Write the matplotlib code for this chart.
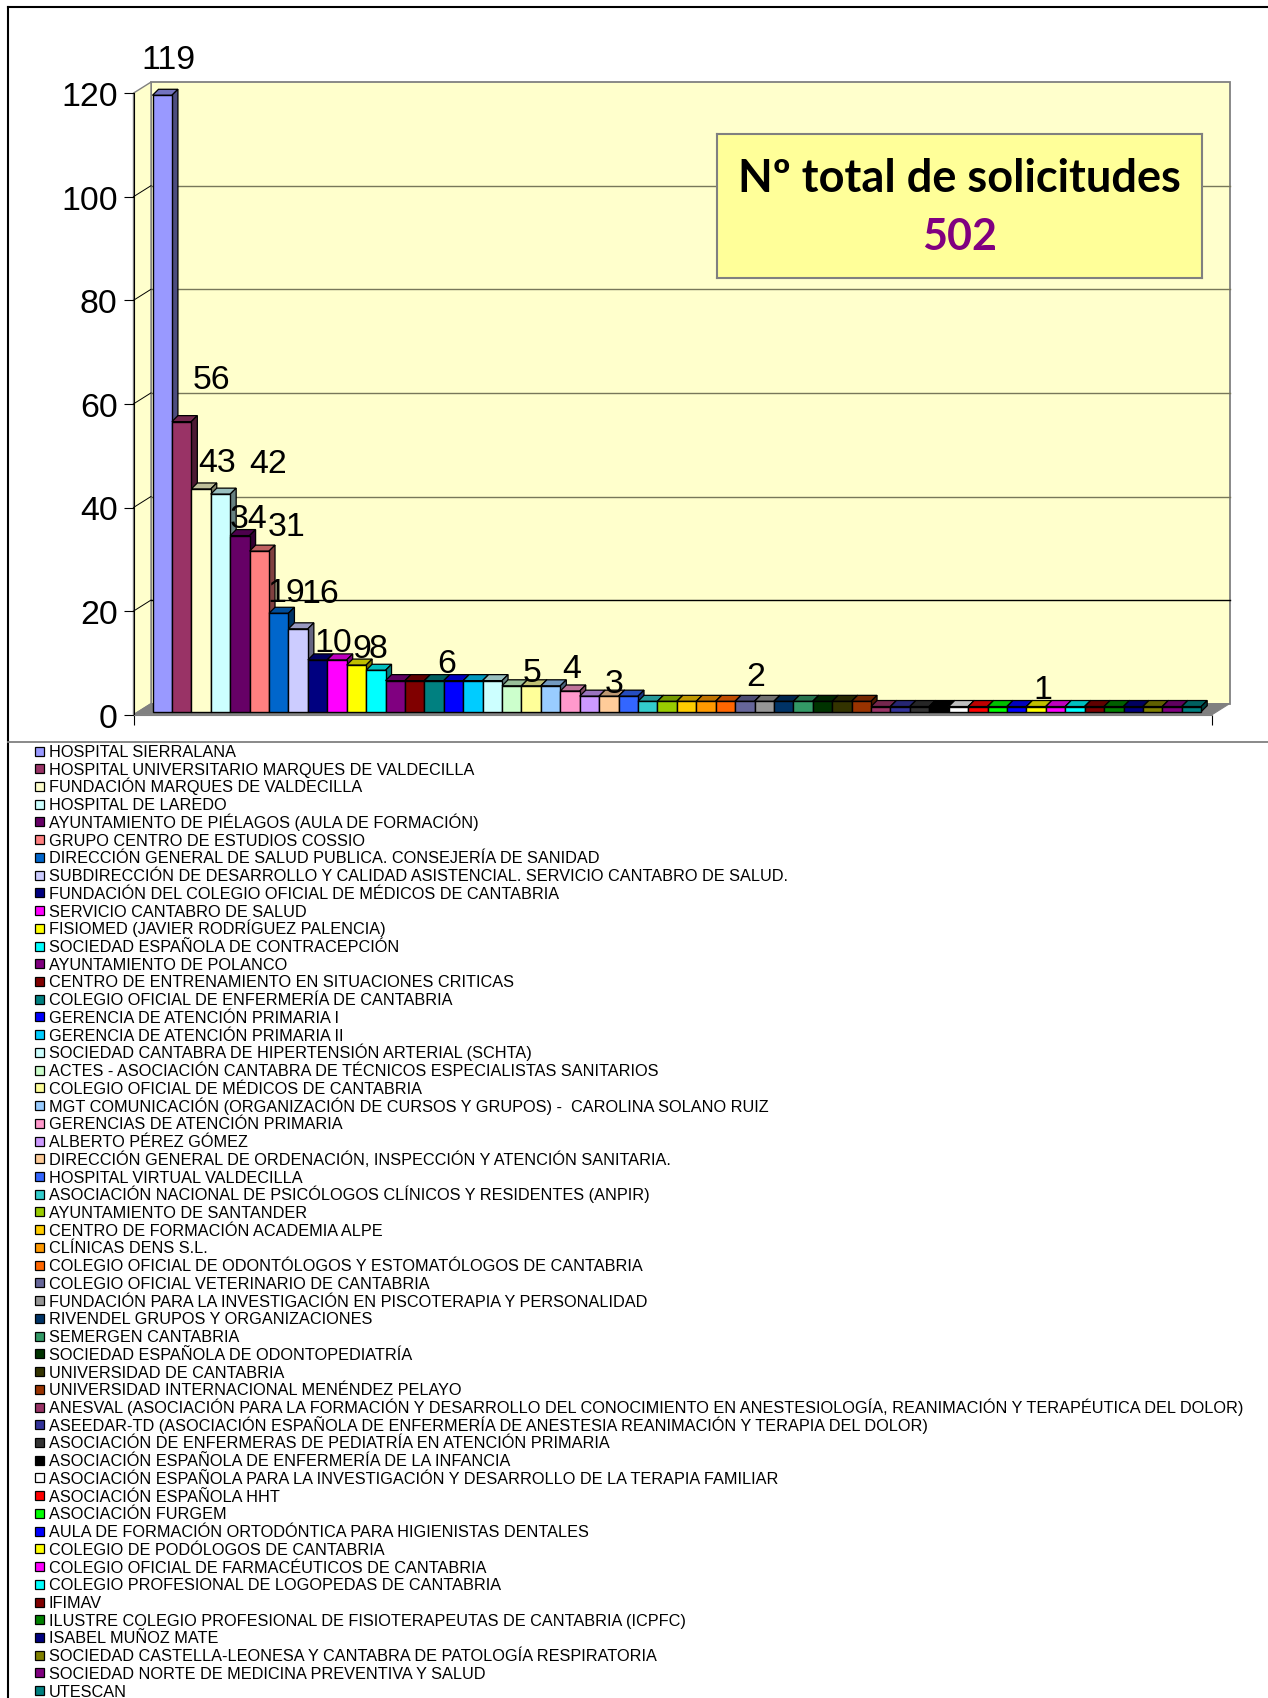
import matplotlib
matplotlib.use("Agg")
import matplotlib.pyplot as plt
from matplotlib.colors import to_rgb
from matplotlib.patches import Polygon, Rectangle
from matplotlib.transforms import Affine2D

W, H = 1268, 1699

entities = [
    "HOSPITAL SIERRALANA",
    "HOSPITAL UNIVERSITARIO MARQUES DE VALDECILLA",
    "FUNDACIÓN MARQUES DE VALDECILLA",
    "HOSPITAL DE LAREDO",
    "AYUNTAMIENTO DE PIÉLAGOS (AULA DE FORMACIÓN)",
    "GRUPO CENTRO DE ESTUDIOS COSSIO",
    "DIRECCIÓN GENERAL DE SALUD PUBLICA. CONSEJERÍA DE SANIDAD",
    "SUBDIRECCIÓN DE DESARROLLO Y CALIDAD ASISTENCIAL. SERVICIO CANTABRO DE SALUD.",
    "FUNDACIÓN DEL COLEGIO OFICIAL DE MÉDICOS DE CANTABRIA",
    "SERVICIO CANTABRO DE SALUD",
    "FISIOMED (JAVIER RODRÍGUEZ PALENCIA)",
    "SOCIEDAD ESPAÑOLA DE CONTRACEPCIÓN",
    "AYUNTAMIENTO DE POLANCO",
    "CENTRO DE ENTRENAMIENTO EN SITUACIONES CRITICAS",
    "COLEGIO OFICIAL DE ENFERMERÍA DE CANTABRIA",
    "GERENCIA DE ATENCIÓN PRIMARIA I",
    "GERENCIA DE ATENCIÓN PRIMARIA II",
    "SOCIEDAD CANTABRA DE HIPERTENSIÓN ARTERIAL (SCHTA)",
    "ACTES - ASOCIACIÓN CANTABRA DE TÉCNICOS ESPECIALISTAS SANITARIOS",
    "COLEGIO OFICIAL DE MÉDICOS DE CANTABRIA",
    "MGT COMUNICACIÓN (ORGANIZACIÓN DE CURSOS Y GRUPOS) -  CAROLINA SOLANO RUIZ",
    "GERENCIAS DE ATENCIÓN PRIMARIA",
    "ALBERTO PÉREZ GÓMEZ",
    "DIRECCIÓN GENERAL DE ORDENACIÓN, INSPECCIÓN Y ATENCIÓN SANITARIA.",
    "HOSPITAL VIRTUAL VALDECILLA",
    "ASOCIACIÓN NACIONAL DE PSICÓLOGOS CLÍNICOS Y RESIDENTES (ANPIR)",
    "AYUNTAMIENTO DE SANTANDER",
    "CENTRO DE FORMACIÓN ACADEMIA ALPE",
    "CLÍNICAS DENS S.L.",
    "COLEGIO OFICIAL DE ODONTÓLOGOS Y ESTOMATÓLOGOS DE CANTABRIA",
    "COLEGIO OFICIAL VETERINARIO DE CANTABRIA",
    "FUNDACIÓN PARA LA INVESTIGACIÓN EN PISCOTERAPIA Y PERSONALIDAD",
    "RIVENDEL GRUPOS Y ORGANIZACIONES",
    "SEMERGEN CANTABRIA",
    "SOCIEDAD ESPAÑOLA DE ODONTOPEDIATRÍA",
    "UNIVERSIDAD DE CANTABRIA",
    "UNIVERSIDAD INTERNACIONAL MENÉNDEZ PELAYO",
    "ANESVAL (ASOCIACIÓN PARA LA FORMACIÓN Y DESARROLLO DEL CONOCIMIENTO EN ANESTESIOLOGÍA, REANIMACIÓN Y TERAPÉUTICA DEL DOLOR)",
    "ASEEDAR-TD (ASOCIACIÓN ESPAÑOLA DE ENFERMERÍA DE ANESTESIA REANIMACIÓN Y TERAPIA DEL DOLOR)",
    "ASOCIACIÓN DE ENFERMERAS DE PEDIATRÍA EN ATENCIÓN PRIMARIA",
    "ASOCIACIÓN ESPAÑOLA DE ENFERMERÍA DE LA INFANCIA",
    "ASOCIACIÓN ESPAÑOLA PARA LA INVESTIGACIÓN Y DESARROLLO DE LA TERAPIA FAMILIAR",
    "ASOCIACIÓN ESPAÑOLA HHT",
    "ASOCIACIÓN FURGEM",
    "AULA DE FORMACIÓN ORTODÓNTICA PARA HIGIENISTAS DENTALES",
    "COLEGIO DE PODÓLOGOS DE CANTABRIA",
    "COLEGIO OFICIAL DE FARMACÉUTICOS DE CANTABRIA",
    "COLEGIO PROFESIONAL DE LOGOPEDAS DE CANTABRIA",
    "IFIMAV",
    "ILUSTRE COLEGIO PROFESIONAL DE FISIOTERAPEUTAS DE CANTABRIA (ICPFC)",
    "ISABEL MUÑOZ MATE",
    "SOCIEDAD CASTELLA-LEONESA Y CANTABRA DE PATOLOGÍA RESPIRATORIA",
    "SOCIEDAD NORTE DE MEDICINA PREVENTIVA Y SALUD",
    "UTESCAN",
]
requests = [119, 56, 43, 42, 34, 31, 19, 16, 10, 10, 9, 8,
            6, 6, 6, 6, 6, 6, 5, 5, 5, 4, 3, 3, 3,
            2, 2, 2, 2, 2, 2, 2, 2, 2, 2, 2, 2,
            1, 1, 1, 1, 1, 1, 1, 1, 1, 1, 1, 1, 1, 1, 1, 1, 1]
bar_colors = [
    "#9999FF", "#993366", "#FFFFCC", "#CCFFFF", "#660066", "#FF8080", "#0066CC", "#CCCCFF", "#000080",
    "#FF00FF", "#FFFF00", "#00FFFF", "#800080", "#800000", "#008080", "#0000FF", "#00CCFF", "#CCFFFF",
    "#CCFFCC", "#FFFF99", "#99CCFF", "#FF99CC", "#CC99FF", "#FFCC99", "#3366FF", "#33CCCC", "#99CC00",
    "#FFCC00", "#FF9900", "#FF6600", "#666699", "#969696", "#003366", "#339966", "#003300", "#333300",
    "#993300", "#993366", "#333399", "#333333", "#000000", "#FFFFFF", "#FF0000", "#00FF00", "#0000FF",
    "#FFFF00", "#FF00FF", "#00FFFF", "#800000", "#008000", "#000080", "#808000", "#800080", "#008080",
]
# which bars carry a value label
labelled_bars = [0, 1, 2, 3, 4, 5, 6, 7, 8, 10, 11, 14, 19, 21, 23, 30, 45]
y_ticks = [0, 20, 40, 60, 80, 100, 120]
total_title = "Nº total de solicitudes"
total_value = "502"

# label nudges in pixels, the original labels were moved around by hand
label_dx = [6, 30, 16, 47.5, 9, 27, 8, 22, 15.5, 5.6, 2, 13, 1, 2, 5, 10.7, 7]
label_dy = [35.5, 42.5, 26, 31, 17.5, 24.5, 20.5, 35.5, 17.5, 16.5, 21.5, 17.5, 13.5, 22.5, 12.5, 24.5, 17.5]

plt.rcParams["font.family"] = ["Liberation Sans", "DejaVu Sans"]

fig = plt.figure(figsize=(W / 100, H / 100), dpi=100)

# page layer in pixel coordinates: frame, legend
page = fig.add_axes([0, 0, 1, 1], zorder=0)
page.set_xlim(0, W)
page.set_ylim(H, 0)
page.axis("off")
page.plot([8, 8], [H, 8], color="black", lw=1.5)
page.plot([8, W], [8, 8], color="black", lw=1.5)
page.plot([8, W], [743, 743], color="#808080", lw=1.3)

for i, (name, col) in enumerate(zip(entities, bar_colors)):
    yc = 752 + i * 17.73
    page.add_patch(Rectangle((35, yc - 4.5), 9, 9, facecolor=col, edgecolor="black", lw=0.9))
    page.text(49, yc + 5, name, fontsize=11.74, color="black", va="baseline", ha="left")

# front plane of the 3D box
left, right, top, bottom = 133.5, 1212, 94.1, 715.7
ax = fig.add_axes([left / W, 1 - bottom / H, (right - left) / W, (bottom - top) / H], zorder=1)
ax.patch.set_visible(False)
pitch = 19.42
x0 = -(152.5 - left) / pitch
x1 = x0 + (right - left) / pitch
ax.set_xlim(x0, x1)
ax.set_ylim(0, 120)
px_y = (bottom - top) / 120

wall_dx, wall_dy = 17.5 / pitch, 11.0 / px_y
bar_dx, bar_dy = 6 / pitch, 6 / px_y

for s in ["top", "right"]:
    ax.spines[s].set_visible(False)
ax.spines["left"].set_linewidth(0.8)
ax.spines["bottom"].set_color("#808080")
ax.set_yticks(y_ticks)
ax.tick_params(axis="y", length=7.2, width=0.8, pad=4.3, labelsize=24.4)
ax.set_xticks([x0, x1])
ax.set_xticklabels(["", ""])
ax.tick_params(axis="x", length=7.2, width=0.8)

# walls and floor
ax.add_patch(Rectangle((x0 + wall_dx, wall_dy), x1 - x0, 120, facecolor="#FFFFCC", edgecolor="#808080",
                       lw=1.3, clip_on=False, zorder=1))
ax.add_patch(Polygon([(x0, 0), (x0 + wall_dx, wall_dy), (x0 + wall_dx, 120 + wall_dy), (x0, 120)],
                     facecolor="#FFFFCC", edgecolor="#808080", lw=1.0, clip_on=False, zorder=1))
ax.add_patch(Polygon([(x0, 0), (x1, 0), (x1 + wall_dx, wall_dy), (x0 + wall_dx, wall_dy)],
                     facecolor="#808080", edgecolor="#808080", lw=0.8, clip_on=False, zorder=1.5))
for v in y_ticks[1:-1]:
    gc = "black" if v == 20 else "#77775A"
    ax.plot([x0 + wall_dx, x1 + wall_dx], [v + wall_dy] * 2, color=gc, lw=1.0, clip_on=False, zorder=1.2)
    ax.plot([x0, x0 + wall_dx], [v, v + wall_dy], color="black", lw=0.7, clip_on=False, zorder=1.2)

# bars sit 3 px above the front edge of the floor
lift = ax.transData + Affine2D().translate(0, 3)


def shade(col, k):
    return tuple(c * k for c in to_rgb(col))


for i, (v, col) in enumerate(zip(requests, bar_colors)):
    z = 3 + i * 0.01
    ax.bar(i, v, width=1, align="edge", color=col, edgecolor="black", lw=1.0,
           transform=lift, clip_on=False, zorder=z + 0.005)
    ax.add_patch(Polygon([(i, v), (i + 1, v), (i + 1 + bar_dx, v + bar_dy), (i + bar_dx, v + bar_dy)],
                         facecolor=shade(col, 0.75), edgecolor="black", lw=0.9,
                         transform=lift, clip_on=False, zorder=z))
    ax.add_patch(Polygon([(i + 1, 0), (i + 1 + bar_dx, bar_dy), (i + 1 + bar_dx, v + bar_dy), (i + 1, v)],
                         facecolor=shade(col, 0.5), edgecolor="black", lw=0.9,
                         transform=lift, clip_on=False, zorder=z))

for idx, dx, dy in zip(labelled_bars, label_dx, label_dy):
    ax.annotate(str(requests[idx]), (idx + 0.5, requests[idx]), xycoords=lift,
                xytext=(dx, dy), textcoords="offset pixels", ha="center", va="center",
                fontsize=24.4, color="black", annotation_clip=False, zorder=4)

# total box
box_ax = fig.add_axes([716.5 / W, 1 - 278.5 / H, 485.5 / W, 144 / H], zorder=2)
box_ax.set_xticks([])
box_ax.set_yticks([])
box_ax.set_facecolor("#FFFF99")
for s in box_ax.spines.values():
    s.set_color("#808080")
    s.set_linewidth(1.5)
box_ax.text(0.5, 0.69, total_title, transform=box_ax.transAxes, ha="center", va="center",
            fontsize=32.5, fontweight="bold", family=["Lato", "DejaVu Sans"], color="black")
box_ax.text(0.5, 0.285, total_value, transform=box_ax.transAxes, ha="center", va="center",
            fontsize=31, fontweight="bold", family=["Lato", "DejaVu Sans"], color="#800080")

fig.savefig("out.png", dpi=100)
